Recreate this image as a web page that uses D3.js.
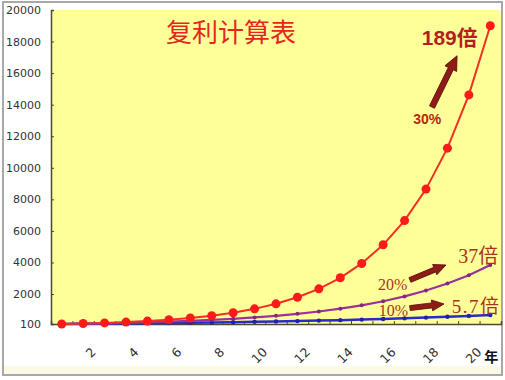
<!DOCTYPE html>
<html>
<head>
<meta charset="utf-8">
<script src="https://cdn.jsdelivr.net/npm/d3@7"></script>
<style>
  body { margin: 0; background: #fff; }
  svg { display: block; }
</style>
</head>
<body>
<svg class="chart"></svg>
<script>
// years 0..20, value of 100 invested at each rate
const years = [0,1,2,3,4,5,6,7,8,9,10,11,12,13,14,15,16,17,18,19,20]
const rate30 = [100,130,169,220,286,371,483,627,816,1060,1379,1792,2330,3029,3937,5119,6654,8650,11246,14619,19005]
const rate20 = [100,120,144,173,207,249,299,358,430,516,619,743,892,1070,1284,1541,1849,2219,2662,3195,3834]
const rate10 = [100,110,121,133,146,161,177,195,214,236,259,285,314,345,380,418,459,505,560,612,673]
const yTicks = [100,2000,4000,6000,8000,10000,12000,14000,16000,18000,20000]
const xTickLabels = [2,4,6,8,10,12,14,16,18,20]

const width = 505, height = 380
const plot = { left: 51, right: 501, top: 10, bottom: 324 }

const svg = d3.select(".chart").attr("width", width).attr("height", height)

// frame + backgrounds
svg.append("rect").attr("x", 3).attr("y", 2).attr("width", 499).attr("height", 373)
  .attr("fill", "#fff").attr("stroke", "#a8a8a8").attr("stroke-width", 2)
svg.append("rect").attr("x", 4).attr("y", 366).attr("width", 497).attr("height", 8).attr("fill", "#fbfbe4")
svg.append("rect").attr("x", plot.left).attr("y", plot.top)
  .attr("width", plot.right - plot.left).attr("height", plot.bottom - plot.top)
  .attr("fill", "#ffff99")

// scales
const xBand = d3.scaleBand().domain(years).range([plot.left, plot.right]).padding(0)
const xPos = d => xBand(d) + xBand.bandwidth() / 2
const xLin = d3.scaleLinear().domain([-0.5, 20.5]).range([plot.left, plot.right])
const yScale = d3.scaleLinear().domain([100, 20000]).range([plot.bottom, plot.top])

// y axis
const yAxis = svg.append("g").attr("transform", `translate(${plot.left},0)`)
  .call(d3.axisRight(yScale).tickValues(yTicks).tickSize(3).tickFormat(d3.format("d")))
yAxis.select(".domain").attr("stroke", "#4a4a30").attr("stroke-width", 1.5)
yAxis.selectAll(".tick line").attr("stroke", "#4a4a30")
yAxis.selectAll(".tick text")
  .attr("x", -10).attr("text-anchor", "end")
  .style("font-family", "DejaVu Sans").style("font-size", "11px").attr("fill", "#333")

// x axis: boundary ticks inside, labels rotated
const xAxis = svg.append("g").attr("transform", `translate(0,${plot.bottom})`)
  .call(d3.axisBottom(xLin).tickValues(years.map(d => d - 0.5).concat([20.5])).tickSize(-3).tickFormat(""))
xAxis.select(".domain").attr("stroke", "#4a4a30").attr("stroke-width", 1.5)
xAxis.selectAll(".tick line").attr("stroke", "#4a4a30")

svg.append("g").selectAll("text")
  .data(xTickLabels)
  .join("text")
  .attr("transform", d => `translate(${xPos(d) - 8},353) rotate(-45)`)
  .attr("text-anchor", "end")
  .style("font-family", "DejaVu Sans").style("font-size", "12.5px").attr("fill", "#333")
  .text(d => d)
svg.append("text").attr("x", xPos(20) + 1).attr("y", 362).attr("text-anchor", "middle")
  .style("font-family", "Noto Sans CJK SC").style("font-size", "14px").style("font-weight", "bold")
  .attr("fill", "#111").text("年")

// series
const series = [
  { name: "10%", values: rate10, line: "#2a2ac8", dot: "#2020b0", r: 2.2, w: 2.5 },
  { name: "20%", values: rate20, line: "#993399", dot: "#86267f", r: 2, w: 2.2 },
  { name: "30%", values: rate30, line: "#f03020", dot: "#ff1a1a", r: 4.5, w: 2 }
]
const lineGen = d3.line().x((d, i) => xPos(years[i])).y(d => yScale(d))

series.forEach(s => {
  svg.append("path").datum(s.values)
    .attr("d", lineGen).attr("fill", "none")
    .attr("stroke", s.line).attr("stroke-width", s.w)
  svg.append("g").selectAll("circle")
    .data(s.values)
    .join("circle")
    .attr("cx", (d, i) => xPos(years[i]))
    .attr("cy", d => yScale(d))
    .attr("r", s.r)
    .attr("fill", s.dot)
})

// title
svg.append("text").attr("x", 231).attr("y", 42).attr("text-anchor", "middle")
  .style("font-family", "Noto Sans CJK SC").style("font-size", "26px")
  .attr("fill", "#e0281e").text("复利计算表")

// annotations (data coordinates: year, value)
const notes = [
  { t: "189倍", n: 16.8, v: 17800, size: 21, font: "Liberation Sans", weight: "bold", color: "#b41e1e", ls: 0 },
  { t: "30%", n: 16.4, v: 12800, size: 14, font: "Liberation Sans", weight: "bold", color: "#b02a10", ls: 0 },
  { t: "37倍", n: 18.5, v: 3960, size: 20, font: "Liberation Serif", weight: "normal", color: "#a83220", ls: 0 },
  { t: "20%", n: 14.76, v: 2250, size: 16, font: "Liberation Serif", weight: "normal", color: "#a83220", ls: 0 },
  { t: "10%", n: 14.8, v: 600, size: 16, font: "Liberation Serif", weight: "normal", color: "#a83220", ls: 0 },
  { t: "5.7倍", n: 18.2, v: 800, size: 19, font: "Liberation Serif", weight: "normal", color: "#a83220", ls: 1.5 }
]
svg.append("g").selectAll("text")
  .data(notes)
  .join("text")
  .attr("x", d => xLin(d.n)).attr("y", d => yScale(d.v))
  .style("font-family", d => `${d.font}, Noto Sans CJK SC`)
  .style("font-size", d => d.size + "px")
  .style("font-weight", d => d.weight)
  .style("letter-spacing", d => d.ls + "px")
  .attr("fill", d => d.color)
  .text(d => d.t)

const arrows = [
  { from: [17.28, 13850], to: [18.45, 17100], w: 5.5, head: 13 },
  { from: [16.25, 2890], to: [17.93, 3840], w: 5, head: 11 },
  { from: [16.25, 1110], to: [17.84, 1370], w: 5, head: 11 }
]
arrows.forEach(a => {
  const x0 = xLin(a.from[0]), y0 = yScale(a.from[1])
  const x1 = xLin(a.to[0]), y1 = yScale(a.to[1])
  const len = Math.hypot(x1 - x0, y1 - y0)
  const ang = Math.atan2(y1 - y0, x1 - x0) * 180 / Math.PI
  const hl = a.head * 1.1, hw = a.head / 2, sw = a.w / 2
  const pts = [[0, -sw], [len - hl, -sw], [len - hl, -hw], [len, 0], [len - hl, hw], [len - hl, sw], [0, sw]]
  svg.append("polygon")
    .attr("points", pts.map(p => p.join(",")).join(" "))
    .attr("transform", `translate(${x0},${y0}) rotate(${ang})`)
    .attr("fill", "#8e1c16").attr("stroke", "#5e0e0a").attr("stroke-width", 0.8)
})
</script>
</body>
</html>
